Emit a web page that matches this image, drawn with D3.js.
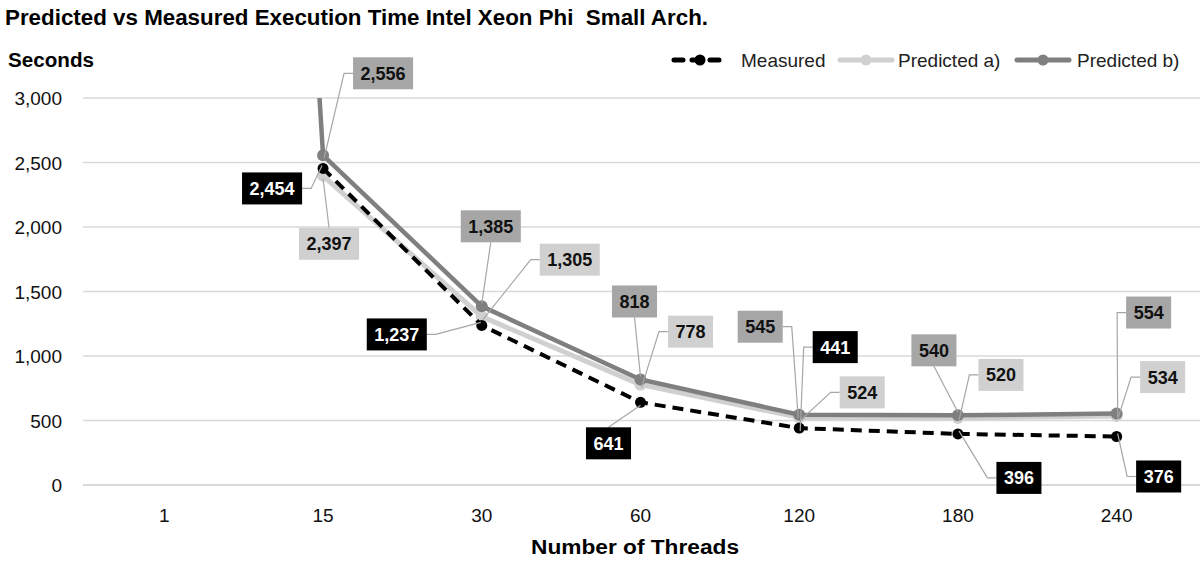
<!DOCTYPE html>
<html>
<head>
<meta charset="utf-8">
<script src="https://cdn.jsdelivr.net/npm/d3@7"></script>
<style>
  body { margin: 0; background: #fff; }
  svg { display: block; font-family: "Liberation Sans", Arial, sans-serif; }
</style>
</head>
<body>
<div id="chart"></div>
<script>
// categories and series values
const threads = ["1", "15", "30", "60", "120", "180", "240"];
const measured = [null, 2454, 1237, 641, 441, 396, 376];
const predictedA = [null, 2397, 1305, 778, 524, 520, 534];
const predictedB = [22400, 2556, 1385, 818, 545, 540, 554];
const yTicks = [0, 500, 1000, 1500, 2000, 2500, 3000];

// label placement: box centre offset from its point, and where the leader attaches
const measuredLabelPos = [null, [-51, 20, "r"], [-85, 9, "r"], [-32, 41, "t"], [36, -81, "l"], [61, 44, "l"], [42, 40, "l"]];
const predALabelPos = [null, [6, 68, "t"], [88, -57, "l"], [50, -53, "l"], [63, -25, "l"], [43, -43, "l"], [46, -39, "l"]];
const predBLabelPos = [null, [60, -82, "l"], [9, -80, "b"], [-6, -78, "b"], [-39, -88, "r"], [-24, -65, "b"], [32, -101, "l"]];

const W = 1203, H = 564;
const margin = {top: 98, right: 3, bottom: 79, left: 83};

const svg = d3.select("#chart").append("svg")
  .attr("width", W)
  .attr("height", H);

const x = d3.scalePoint()
  .domain(threads)
  .range([85 + 79.35, 1196 - 79.35]);

const y = d3.scaleLinear()
  .domain([0, 3000])
  .range([485, 98]);

// gridlines
svg.append("g")
  .selectAll("line")
  .data(yTicks)
  .join("line")
  .attr("x1", margin.left)
  .attr("x2", W - margin.right)
  .attr("y1", d => y(d))
  .attr("y2", d => y(d))
  .attr("stroke", "#d9d9d9")
  .attr("stroke-width", d => d === 0 ? 2 : 1.3);

// y axis labels
svg.append("g")
  .selectAll("text")
  .data(yTicks)
  .join("text")
  .attr("x", 62)
  .attr("y", d => y(d) + 7)
  .attr("text-anchor", "end")
  .attr("font-size", 19)
  .attr("fill", "#111")
  .text(d => d3.format(",")(d));

// x axis labels
svg.append("g")
  .selectAll("text")
  .data(threads)
  .join("text")
  .attr("x", d => x(d))
  .attr("y", 522)
  .attr("text-anchor", "middle")
  .attr("font-size", 19)
  .attr("fill", "#111")
  .text(d => d);

// titles
svg.append("text")
  .attr("x", 5).attr("y", 25)
  .attr("font-size", 22).attr("font-weight", "bold")
  .attr("textLength", 703).attr("lengthAdjust", "spacingAndGlyphs")
  .style("white-space", "pre")
  .text("Predicted vs Measured Execution Time Intel Xeon Phi  Small Arch.");

svg.append("text")
  .attr("x", 8).attr("y", 67)
  .attr("font-size", 20).attr("font-weight", "bold")
  .attr("textLength", 86).attr("lengthAdjust", "spacingAndGlyphs")
  .text("Seconds");

svg.append("text")
  .attr("x", 635).attr("y", 554)
  .attr("text-anchor", "middle")
  .attr("font-size", 20).attr("font-weight", "bold")
  .attr("textLength", 208).attr("lengthAdjust", "spacingAndGlyphs")
  .text("Number of Threads");

// clip to plot area
svg.append("clipPath").attr("id", "plotClip")
  .append("rect")
  .attr("x", margin.left).attr("y", 98)
  .attr("width", W - margin.left).attr("height", 400);

const series = [
  {name: "Predicted a)", values: predictedA, color: "#d0d0d0", width: 5, dash: null, r: 6, pos: predALabelPos, box: "#d0d0d0", txt: "#111"},
  {name: "Predicted b)", values: predictedB, color: "#7f7f7f", width: 4.5, dash: null, r: 6, pos: predBLabelPos, box: "#a6a6a6", txt: "#111"},
  {name: "Measured", values: measured, color: "#000", width: 4, dash: "11,7", r: 5.5, pos: measuredLabelPos, box: "#000", txt: "#fff"}
];

const line = d3.line()
  .defined(d => d.v !== null)
  .x(d => x(d.t))
  .y(d => y(d.v));

const plot = svg.append("g").attr("clip-path", "url(#plotClip)");

series.forEach(s => {
  const pts = threads.map((t, i) => ({t: t, v: s.values[i]}));
  plot.append("path")
    .datum(pts)
    .attr("fill", "none")
    .attr("stroke", s.color)
    .attr("stroke-width", s.width)
    .attr("stroke-dasharray", s.dash)
    .attr("stroke-linejoin", "round")
    .attr("d", line);
  plot.selectAll(null)
    .data(pts.filter(d => d.v !== null && d.v <= 3000))
    .join("circle")
    .attr("cx", d => x(d.t))
    .attr("cy", d => y(d.v))
    .attr("r", s.r)
    .attr("fill", s.color);
});

// data labels with leader lines
const labelLayer = svg.append("g");
const fmt = d3.format(",");
series.forEach(s => {
  threads.forEach((t, i) => {
    const v = s.values[i], p = s.pos[i];
    if (v === null || p === null || v > 3000) return;
    const px = x(t), py = y(v);
    const cx = px + p[0], cy = py + p[1];
    const g = labelLayer.append("g");
    const txt = g.append("text")
      .attr("x", cx).attr("y", cy + 6.5)
      .attr("text-anchor", "middle")
      .attr("font-size", 18).attr("font-weight", "bold")
      .attr("fill", s.txt)
      .text(fmt(v));
    const tw = txt.node().getComputedTextLength();
    const bw = tw + 15, bh = 32;
    g.insert("rect", "text")
      .attr("x", cx - bw / 2).attr("y", cy - bh / 2)
      .attr("width", bw).attr("height", bh)
      .attr("fill", s.box);
    // leader line
    let pathD;
    if (p[2] === "l") {
      const ex = cx - bw / 2;
      pathD = `M${ex},${cy}L${ex - 9},${cy}L${px + 1},${py - Math.sign(p[1]) * 3}`;
    } else if (p[2] === "r") {
      const ex = cx + bw / 2;
      pathD = `M${ex},${cy}L${ex + 9},${cy}L${px - 1},${py - Math.sign(p[1]) * 3}`;
    } else if (p[2] === "t") {
      pathD = `M${cx},${cy - bh / 2}L${px},${py + 3}`;
    } else {
      pathD = `M${cx},${cy + bh / 2}L${px},${py - 3}`;
    }
    labelLayer.insert("path", ":first-child")
      .attr("d", pathD)
      .attr("fill", "none")
      .attr("stroke", "#a6a6a6")
      .attr("stroke-width", 1.2);
  });
});

// legend
const legendItems = [
  {name: "Measured", x: 672, tx: 741, color: "#000", width: 5, dash: "9,9", r: 5.5},
  {name: "Predicted a)", x: 838, tx: 898, color: "#d0d0d0", width: 5, dash: null, r: 5.5},
  {name: "Predicted b)", x: 1015, tx: 1077, color: "#7f7f7f", width: 5, dash: null, r: 5.5}
];
const legend = svg.append("g");
legendItems.forEach(d => {
  legend.append("line")
    .attr("x1", d.x + 2).attr("x2", d.x + 54)
    .attr("y1", 60).attr("y2", 60)
    .attr("stroke", d.color)
    .attr("stroke-width", d.width)
    .attr("stroke-linecap", "round")
    .attr("stroke-dasharray", d.dash);
  legend.append("circle")
    .attr("cx", d.x + 28).attr("cy", 60).attr("r", d.r)
    .attr("fill", d.color);
  legend.append("text")
    .attr("x", d.tx).attr("y", 67)
    .attr("font-size", 19)
    .attr("fill", "#222")
    .text(d.name);
});
</script>
</body>
</html>
